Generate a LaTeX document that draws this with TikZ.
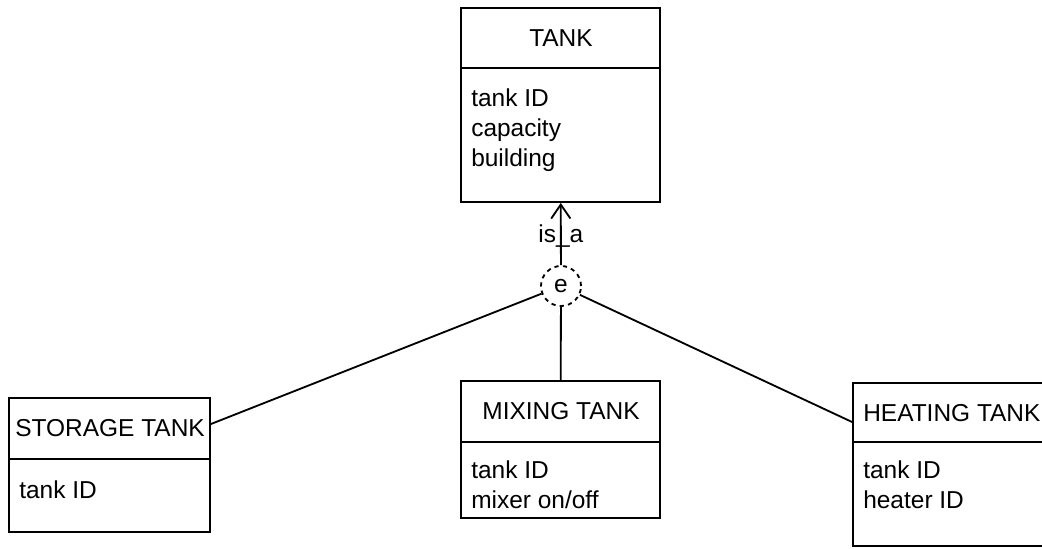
\documentclass[tikz,border=0pt]{standalone}
\usepackage{fontspec}
\setmainfont{Liberation Sans}
\usetikzlibrary{arrows.meta}

\tikzset{
  entity/.style={draw, line width=1.3pt, minimum width=4.975cm, inner sep=0pt},
  attr/.style={anchor=west, inner sep=0pt, align=left},
  link/.style={line width=1.3pt}
}

\begin{document}
\begin{tikzpicture}[x=0.025cm,y=-0.025cm,font=\fontsize{17.4}{21.3}\selectfont]
  \clip (0,0) rectangle (1042,548);
  % entity boxes
  \node[entity, minimum height=4.85cm]  (tank) at (560.5,105)   {};
  \node[entity, minimum height=3.425cm] (mix)  at (560.5,449.5) {};
  \node[entity, minimum width=5.025cm, minimum height=3.35cm] (st) at (109.5,465) {};
  \node[entity, minimum height=4.075cm] (heat) at (952.5,464.5) {};
  \draw[link] (461,68)  -- (660,68);
  \draw[link] (461,442) -- (660,442);
  \draw[link] (9,459)   -- (210,459);
  \draw[link] (853,442) -- (1052,442);
  % titles
  \node (tankt) at (561,38)  {TANK};
  \node (mixt)  at (561,411) {MIXING TANK};
  \node (stt)   at (110,428) {STORAGE TANK};
  \node[anchor=west, inner sep=0pt] (heatt) at (863,413) {HEATING TANK};
  % attributes
  \node[attr] (tanka) at (471,130) {tank ID\\capacity\\building};
  \node[attr] (mixa)  at (471,485) {tank ID\\mixer on/off};
  \node[attr] (sta)   at (19,490)  {tank ID};
  \node[attr] (heata) at (863,485) {tank ID\\heater ID};
  % specialisation
  \node[draw, dashed, circle, line width=1.3pt, minimum size=1.0cm, inner sep=0pt] (e) at (561,286) {e};
  \draw[link, -{Straight Barb[length=3.5mm,width=4.8mm]}] (e) -- (tank)
    node[pos=0.47, inner sep=0pt] {is\_a};
  \draw[link] (e) -- (mix);
  \draw[link] (e) -- (st.east |- 0,424);
  \draw[link] (e) -- (heat.west |- 0,422);
\end{tikzpicture}
\end{document}
